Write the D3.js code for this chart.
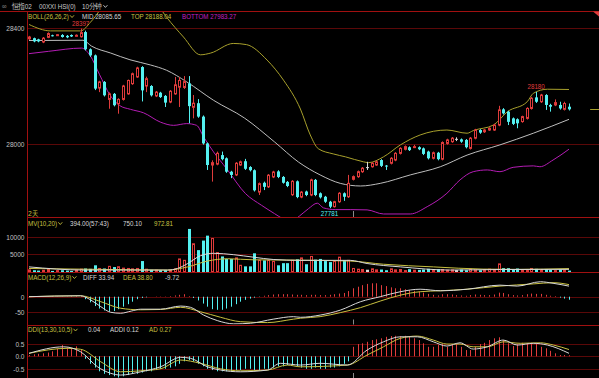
<!DOCTYPE html>
<html><head><meta charset="utf-8">
<script src="https://cdn.jsdelivr.net/npm/d3@7"></script>
<style>body{margin:0;background:#000;}svg{display:block;}text{font-family:"Liberation Sans",Arial,sans-serif;}</style>
</head><body><svg id="c" width="599" height="378"></svg>
<script>
// ---------- DATA ----------
const open = [
28362,28364,28360,28351,28367,28374,28374,28375,28372,28375,
28372,28369,28385,28326,28305,28193,28214,28154,28173,28139,
28154,28173,28208,28231,28265,28200,28200,28166,28177,28166,
28145,28173,28196,28195,28209,28127,28141,28095,28003,27929,
27932,27963,27952,27906,27895,27929,27942,27922,27911,27836,
27868,27854,27888,27907,27888,27871,27827,27873,27819,27838,
27826,27878,27832,27820,27803,27786,27803,27832,27820,27880,
27889,27906,27920,27923,27929,27946,27927,27935,27946,27969,
27983,27990,27990,27990,27986,27975,27952,27971,27949,28003,
28009,28017,28017,28015,27986,28021,28049,28043,28049,28049,
28066,28120,28112,28089,28086,28078,28089,28123,28161,28146,
28169,28135,28135,28135,28120,28129];
const close = [
28368,28353,28353,28364,28380,28372,28376,28368,28367,28370,
28374,28383,28326,28305,28191,28214,28168,28173,28134,28154,
28200,28219,28242,28262,28185,28225,28168,28179,28162,28143,
28182,28204,28219,28215,28131,28141,28095,28003,27929,27937,
27969,27949,27906,27895,27935,27940,27916,27911,27842,27865,
27854,27894,27905,27888,27868,27857,27873,27819,27836,27826,
27878,27826,27818,27803,27786,27803,27832,27820,27866,27889,
27906,27918,27920,27935,27940,27926,27925,27952,27969,27986,
27992,27980,27992,27983,27967,27952,27971,27949,28006,28015,
28021,28017,28009,27990,28021,28049,28040,28049,28055,28066,
28118,28106,28077,28070,28072,28095,28123,28158,28146,28169,
28135,28129,28143,28123,28140,28120];
const high = [
28372,28366,28362,28368,28384,28376,28378,28378,28375,28377,
28377,28397,28390,28329,28308,28218,28217,28178,28176,28158,
28204,28222,28246,28266,28268,28232,28203,28183,28180,28169,
28186,28231,28231,28234,28234,28169,28155,28099,28006,27945,
27975,27975,27955,27909,27939,27944,27950,27925,27914,27869,
27872,27898,27909,27911,27891,27874,27877,27876,27840,27841,
27882,27881,27835,27823,27806,27806,27836,27835,27895,27893,
27910,27922,27940,27939,27944,27949,27929,27956,27973,27990,
27996,27993,27998,27993,27989,27978,27975,27974,28010,28019,
28025,28024,28020,28018,28025,28053,28052,28052,28058,28070,
28132,28124,28115,28092,28089,28098,28127,28162,28180,28173,
28172,28139,28154,28146,28146,28140];
const low = [
28358,28350,28350,28347,28364,28370,28372,28366,28364,28368,
28370,28366,28322,28300,28186,28179,28164,28122,28130,28105,
28150,28170,28204,28228,28147,28179,28164,28162,28159,28128,
28141,28170,28128,28190,28072,28089,28091,27999,27912,27872,
27928,27945,27902,27884,27891,27926,27912,27907,27838,27826,
27843,27850,27884,27884,27865,27853,27823,27815,27815,27822,
27822,27822,27814,27799,27781,27783,27799,27806,27816,27876,
27885,27902,27912,27920,27926,27922,27912,27931,27942,27965,
27979,27977,27987,27980,27963,27948,27948,27945,27945,27999,
28005,28011,28005,27986,27982,28017,28036,28039,28046,28046,
28062,28102,28066,28066,28055,28074,28085,28119,28142,28142,
28118,28112,28131,28119,28116,28116];
const volume = [
600,500,400,500,700,300,400,500,400,300,
500,800,1000,900,1900,1000,1000,1600,1400,1500,
1100,1000,900,1000,3100,800,600,500,500,500,
500,900,3700,3300,12200,8000,6200,8900,10300,9500,
5500,4400,3700,3700,4000,1900,1600,1600,5300,3300,
3300,3300,3000,1900,2500,2500,3300,3600,4000,2200,
4400,3500,3700,3100,2800,3000,4200,3300,3300,1000,
800,700,500,900,600,700,500,900,600,700,
400,800,500,600,700,900,600,800,700,500,
600,400,700,500,800,600,500,700,800,700,
2300,1100,1100,700,1000,600,500,1000,900,700,
800,600,400,700,500,394];
const macdBar = [
1,1,0,1,1,2,1,1,1,2,2,2,
-8,-18,-30,-38,-44,-48,-46,-40,-32,-24,-16,-8,
-4,-2,0,1,1,1,2,4,6,8,
2,-4,-12,-22,-32,-40,-42,-42,-38,-32,-24,-16,-10,-6,-3,-1,
3,5,7,8,8,8,7,6,
6,5,6,6,5,5,6,8,10,12,18,
27,32,37,41,43,43,37,34,30,27,27,24,21,19,16,13,9,
6,4,8,8,7,5,4,3,5,7,6,5,5,7,
13,12,8,5,4,5,8,10,9,9,6,3,2,-3,-6,-9.72];
const ddiBar = [
0.05,0.08,0.1,0.12,0.15,0.2,0.3,0.45,0.35,0.3,0.4,0.25,
-0.1,-0.3,-0.45,-0.6,-0.7,-0.75,-0.8,-0.85,-0.8,-0.75,
-0.7,-0.7,-0.65,-0.6,-0.6,-0.55,-0.5,-0.5,-0.45,-0.4,
-0.3,-0.2,-0.15,-0.2,-0.3,-0.4,-0.5,-0.55,-0.6,-0.6,
-0.6,-0.6,-0.55,-0.55,-0.5,-0.5,-0.55,-0.55,-0.5,-0.5,
-0.45,-0.4,-0.4,-0.35,-0.35,-0.4,-0.45,-0.5,-0.5,-0.45,
-0.5,-0.5,-0.45,-0.45,-0.4,-0.3,-0.2,
0.38,0.49,0.52,0.58,0.65,0.68,0.72,0.78,0.81,0.82,
0.81,0.82,0.78,0.72,0.65,0.52,0.38,0.38,0.45,0.49,
0.38,0.45,0.49,0.38,0.25,0.25,0.38,0.49,0.54,0.65,
0.72,0.76,0.65,0.52,0.41,0.49,0.54,0.52,0.54,0.52,
0.38,0.32,0.22,0.12,0.05,0.05,0.04];
// indicator lines: [candle index, value]
const bollMid = [[0,28356],[11.5,28357],[13.3,28337],[17.4,28313],[21.5,28290],[25.9,28272],[29.3,28254],[33.6,28214],[39.3,28151],[45.9,28090],[52.3,28008],[57.4,27939],[62,27895],[66.3,27866],[70.6,27857],[74.8,27866],[81.2,27895],[87.6,27923],[93.3,27963],[100.3,27998],[107.4,28038],[115,28085.65]];
const bollTop = [[0,28411],[4.6,28389],[11,28389],[13.1,28419],[14.2,28440],[15.5,28470],[21,28530],[27.5,28475],[29.3,28436],[32.9,28368],[36.5,28307],[38.7,28313],[43.5,28346],[46.3,28342],[50.7,28289],[54.2,28220],[57.8,28121],[59.9,28032],[61.6,27985],[64.8,27967],[67.4,27957],[71.2,27940],[72.3,27937],[75.5,27957],[79.1,27998],[83.3,28032],[89,28049],[93.3,28038],[94.6,28047],[98.9,28066],[101.9,28112],[106.1,28146],[107.4,28175],[110.4,28189],[115,28188.04]];
const bollBot = [[0,28311],[4.2,28319],[11.2,28330],[13,28305],[15,28240],[17.2,28170],[19.3,28133],[21.6,28120],[24.4,28108],[28,28076],[30.8,28065],[33.6,28071],[35.7,28065],[37.2,28025],[39.3,27974],[42.1,27916],[46.1,27831],[49.5,27791],[52.3,27762],[53.8,27747],[55.7,27734],[57.6,27754],[59.5,27779],[61.4,27798],[62.7,27782],[65.2,27776],[68.4,27776],[72,27775],[75.5,27761],[81.2,27761],[84.8,27786],[89,27832],[91.8,27878],[94.6,27906],[97.6,27912],[100.3,27906],[103.1,27921],[107.4,27926],[108.8,27923],[111.6,27946],[115,27983.27]];
const mvMa10 = [[0,1450],[11.7,550],[22.3,550],[29.5,550],[31.6,1000],[33.8,2400],[36.5,4600],[39.3,5300],[43.6,4900],[47.8,4200],[52,3550],[57.8,3300],[68.4,3300],[72,2400],[79.1,1450],[89.7,550],[100.4,700],[108.9,750],[115,750.10]];
const mvMa20 = [[0,1000],[15.3,740],[29.5,550],[33.8,1450],[38,3100],[42.3,3750],[47.8,3450],[57.8,3350],[68.4,3100],[75.5,2200],[86.1,1450],[96.7,820],[104,740],[115,972.81]];
const diffLine = [[0,0],[11,3],[13.1,-10],[15.3,-32],[17.4,-50],[19.5,-53],[21.8,-46],[23.8,-40],[28,-40],[32.3,-30],[34.4,-34],[37.2,-59],[40.2,-77],[43.6,-87],[47.2,-85],[52,-72],[56.3,-64],[57.8,-66],[62,-59],[66.3,-43],[70.6,-16],[74.8,0],[79.1,16],[83.3,24],[87.6,19],[93.3,24],[100.3,37],[104,34],[108.9,48],[111.6,43],[115,33.94]];
const deaLine = [[0,0],[11,3],[15.3,-16],[19.5,-37],[23.8,-42],[28,-41],[32.3,-34],[36.5,-48],[40.8,-66],[45,-80],[50.8,-83],[56.3,-72],[57.8,-69],[62,-64],[66.3,-51],[70.6,-35],[74.8,-14],[79.1,5],[83.3,16],[87.6,19],[93.3,24],[100.3,34],[107.4,41],[111.6,45],[115,38.80]];
const addiLine = [[0,0.12],[7.4,0.38],[11,0.18],[14.6,-0.42],[17.4,-0.68],[19.5,-0.75],[23.8,-0.62],[28,-0.42],[32.3,-0.04],[34.4,-0.08],[38,-0.42],[40.8,-0.55],[45,-0.62],[50.8,-0.55],[53.5,-0.28],[57.8,-0.35],[62,-0.28],[67.8,-0.35],[72,0.25],[75.5,0.58],[79.1,0.78],[82.7,0.78],[86.1,0.58],[89,0.41],[91.8,0.54],[94.6,0.29],[97.6,0.38],[101,0.65],[104,0.45],[107.4,0.52],[110.4,0.45],[115,0.12]];
const adLine = [[0,0.12],[8.2,0.32],[11,0.28],[15.3,-0.22],[19.5,-0.62],[23.8,-0.58],[28,-0.5],[32.3,-0.15],[36.5,-0.28],[40.8,-0.5],[45,-0.58],[50.8,-0.55],[55,-0.35],[57.8,-0.42],[67.8,-0.35],[72,0.05],[75.5,0.38],[79.1,0.72],[82.7,0.81],[86.1,0.65],[89,0.49],[91.8,0.49],[94.6,0.38],[97.6,0.38],[101,0.58],[104.6,0.52],[108.9,0.54],[111.7,0.45],[115,0.27]];
const priceTicks = [28400, 28000];
const volTicks = [10000, 5000];
const macdTicks = [0, -50];
const ddiTicks = [0.5, 0.0, -0.5];
const peakMarks = [11, 108];
const troughMarks = [64];
const dayStart = 69;
const refLevel = 28121;
const headerTexts = ["\u221e", "恒指02", "00XXI HSI(0)", "10分钟"];
const legendBoll = ["BOLL(26,26,2)", "MID 28085.65", "TOP 28188.04", "BOTTOM 27983.27"];
const legendMV = ["MV(10,20)", "394.00(57:43)", "750.10", "972.81"];
const legendMACD = ["MACD(12,26,9)", "DIFF 33.94", "DEA 38.80", "-9.72"];
const legendDDI = ["DDI(13,30,10,5)", "0.04", "ADDI 0.12", "AD 0.27"];

// ---------- LAYOUT / STYLE ----------
const W = 599, H = 378, AX = 27;
const P = {main:[11.5,217], vol:[217,272], macd:[272,324.5], ddi:[324.5,378]};
const RED = "#e03c3c", CYAN = "#54f0f0", WHITE = "#d8d8d8", YEL = "#c8c040", OLIVE = "#a8a02c", MAG = "#b41cb4";
const SEP = "#a01010", GRID = "#5a0808", AXT = "#c0c0c0";
const FS = 8, SX = 0.78;
// legend item layout: [x, colour]
const lyBoll = [[28,YEL],[82,WHITE],[131,YEL],[182,"#c020c0"]];
const lyMV = [[28,YEL],[70,WHITE],[123,WHITE],[154,YEL]];
const lyMACD = [[28,YEL],[83,WHITE],[123,YEL],[165,WHITE]];
const lyDDI = [[28,YEL],[88,WHITE],[110,WHITE],[149,YEL]];
const lyHdr = [[2,"#8a8a8a"],[12,"#c8c8c8"],[39,"#c8c8c8"],[82,"#c8c8c8"]];

const svg = d3.select("#c");
svg.append("rect").attr("width",W).attr("height",H).attr("fill","#000");
const defs = svg.append("defs");
Object.entries(P).forEach(([k,[a,b]]) => {
  defs.append("clipPath").attr("id","clip-"+k).append("rect").attr("x",AX+1).attr("y",a+0.5).attr("width",W-AX).attr("height",b-a-0.5);
});

// text with horizontal compression (screen fonts in the reference are narrow)
function txt(parent, tx, ty, s, fill, opt = {}) {
  const t = parent.append("text")
    .attr("transform", `translate(${tx},${ty}) scale(${opt.sx || SX},1)`)
    .attr("font-size", opt.size || FS).attr("fill", fill)
    .attr("text-anchor", opt.anchor || "start").text(s);
  if (opt.family) t.attr("font-family", opt.family);
  return t;
}
function textRight(t, sx) { return t.node().getComputedTextLength() * (sx || SX); }
function chevron(cx, cy, col) {
  svg.append("path").attr("d",`M${cx},${cy} l2,2.2 l2,-2.2`).attr("fill","none").attr("stroke",col).attr("stroke-width",0.9);
}

const idx = d3.range(open.length);
const x = d3.scaleLinear().domain([0,115]).range([29,569]);
const yP = d3.scaleLinear().domain([28000,28400]).range([144.3,27.7]);
const yV = d3.scaleLinear().domain([0,10000]).range([272,236.7]);
const yM = d3.scaleLinear().domain([0,-50]).range([296.7,312.3]);
const yD = d3.scaleLinear().domain([0,0.5]).range([356.3,343.8]);
const xr = i => Math.round(x(i));

// grid lines + axis labels
function grid(ticks, y, fmt) {
  ticks.forEach(t => {
    const yy = Math.round(y(t)) + 0.5;
    svg.append("line").attr("x1",AX).attr("x2",W).attr("y1",yy).attr("y2",yy).attr("stroke",GRID).attr("stroke-width",1);
    txt(svg, AX-2.5, yy+2.8, fmt(t), AXT, {anchor:"end", sx:0.82});
  });
}
grid(priceTicks, yP, d => d);
grid(volTicks, yV, d => d);
grid(macdTicks, yM, d => d);
grid(ddiTicks, yD, d => d.toFixed(1));

// separators
svg.append("line").attr("x1",0).attr("x2",W).attr("y1",P.main[0]).attr("y2",P.main[0]).attr("stroke",SEP);
[P.main[1],P.vol[1],P.macd[1]].forEach(y => svg.append("line").attr("x1",AX).attr("x2",W).attr("y1",Math.round(y)+0.5).attr("y2",Math.round(y)+0.5).attr("stroke",SEP));
svg.append("line").attr("x1",AX+0.5).attr("x2",AX+0.5).attr("y1",P.main[0]).attr("y2",H).attr("stroke",SEP);

// header
headerTexts.forEach((t,k) => {
  const [lx,lc] = lyHdr[k];
  const cjk = /[\u4e00-\u9fff]/.test(t);
  const el = txt(svg, lx, 8.8, t, lc, cjk ? {family:"Noto Sans CJK SC", size:7.5, sx:0.85} : {});
  if (k === headerTexts.length-1) chevron(lx + textRight(el, 0.85) + 1.5, 5.2, lc);
});
svg.append("path").attr("d",`M${W-6},${P.main[0]} L${W},${P.main[0]} L${W},${P.main[0]+5} Z`).attr("fill",RED);

// legends
function legend(items, lay, y) {
  items.forEach((t,k) => {
    const [lx,lc] = lay[k];
    const el = txt(svg, lx, y, t, lc);
    if (k === 0) chevron(lx + textRight(el) + 1.2, y - 3.2, lc);
  });
}
legend(legendBoll, lyBoll, 18.5);
legend(legendMV, lyMV, 225.5);
legend(legendMACD, lyMACD, 279.5);
legend(legendDDI, lyDDI, 332);
txt(svg, 28, 215.5, "2天", YEL, {family:"Noto Sans CJK SC", size:7.5, sx:0.9});

// ----- main panel -----
const gM = svg.append("g").attr("clip-path","url(#clip-main)");
const lineGen = (ys) => d3.line().x(d => x(d[0])).y(d => ys(d[1])).curve(d3.curveMonotoneX);
gM.append("path").datum(bollTop).attr("d",lineGen(yP)).attr("fill","none").attr("stroke",OLIVE).attr("stroke-width",1);
gM.append("path").datum(bollMid).attr("d",lineGen(yP)).attr("fill","none").attr("stroke","#bdbdbd").attr("stroke-width",1);
gM.append("path").datum(bollBot).attr("d",lineGen(yP)).attr("fill","none").attr("stroke",MAG).attr("stroke-width",1);

const colorOf = i => close[i] > open[i] ? RED : (close[i] < open[i] ? CYAN : WHITE);
idx.forEach(i => {
  const c = colorOf(i), cx = xr(i);
  gM.append("line").attr("x1",cx+0.5).attr("x2",cx+0.5).attr("y1",yP(high[i])).attr("y2",yP(low[i])).attr("stroke",c);
  const top = yP(Math.max(open[i],close[i])), bot = yP(Math.min(open[i],close[i]));
  if (close[i] > open[i]) {
    gM.append("rect").attr("x",cx-0.5).attr("y",top).attr("width",2).attr("height",Math.max(bot-top,1)).attr("fill","#000").attr("stroke",c).attr("stroke-width",1);
  } else if (close[i] < open[i]) {
    gM.append("rect").attr("x",cx-1).attr("y",top).attr("width",3).attr("height",Math.max(bot-top,1)).attr("fill",c);
  } else {
    gM.append("line").attr("x1",cx-1).attr("x2",cx+2).attr("y1",top).attr("y2",top).attr("stroke",c);
  }
});
peakMarks.forEach(i => txt(svg, x(i), yP(high[i])-2.6, String(high[i]), RED, {anchor:"middle"}));
troughMarks.forEach(i => txt(svg, x(i), yP(low[i])+8, String(low[i]), CYAN, {anchor:"middle"}));
svg.append("line").attr("x1",x(119.5)).attr("x2",W).attr("y1",Math.round(yP(refLevel))+0.5).attr("y2",Math.round(yP(refLevel))+0.5).attr("stroke",OLIVE);

// ----- volume -----
const gV = svg.append("g").attr("clip-path","url(#clip-vol)");
idx.forEach(i => {
  const c = colorOf(i), cx = xr(i), t = yV(volume[i]), b = yV(0);
  if (close[i] >= open[i]) gV.append("rect").attr("x",cx-0.5).attr("y",t).attr("width",2).attr("height",Math.max(b-t,0.5)).attr("fill","#000").attr("stroke",close[i]>open[i]?RED:WHITE);
  else gV.append("rect").attr("x",cx-1).attr("y",t).attr("width",3).attr("height",b-t).attr("fill",c);
});
gV.append("path").datum(mvMa20).attr("d",lineGen(yV)).attr("fill","none").attr("stroke",YEL);
gV.append("path").datum(mvMa10).attr("d",lineGen(yV)).attr("fill","none").attr("stroke",WHITE);

// ----- MACD -----
const gC = svg.append("g").attr("clip-path","url(#clip-macd)");
idx.forEach(i => {
  const v = macdBar[i]; if (v === 0) return;
  gC.append("line").attr("x1",xr(i)+0.5).attr("x2",xr(i)+0.5).attr("y1",yM(0)).attr("y2",yM(v)).attr("stroke",v>0?RED:CYAN).attr("stroke-width",1);
});
gC.append("path").datum(deaLine).attr("d",lineGen(yM)).attr("fill","none").attr("stroke",YEL);
gC.append("path").datum(diffLine).attr("d",lineGen(yM)).attr("fill","none").attr("stroke",WHITE);

// ----- DDI -----
const gD = svg.append("g").attr("clip-path","url(#clip-ddi)");
idx.forEach(i => {
  const v = ddiBar[i];
  gD.append("line").attr("x1",xr(i)+0.5).attr("x2",xr(i)+0.5).attr("y1",yD(0)).attr("y2",yD(v)).attr("stroke",v>0?RED:CYAN).attr("stroke-width",1);
});
gD.append("path").datum(adLine).attr("d",lineGen(yD)).attr("fill","none").attr("stroke",YEL);
gD.append("path").datum(addiLine).attr("d",lineGen(yD)).attr("fill","none").attr("stroke",WHITE);

// day separator ticks
[[P.main[1]-6,P.main[1]],[P.macd[1]-5,P.macd[1]],[H-5,H]].forEach(([a,b]) =>
  svg.append("line").attr("x1",xr(dayStart)+0.5).attr("x2",xr(dayStart)+0.5).attr("y1",a).attr("y2",b).attr("stroke","#8a8a8a"));
</script></body></html>
